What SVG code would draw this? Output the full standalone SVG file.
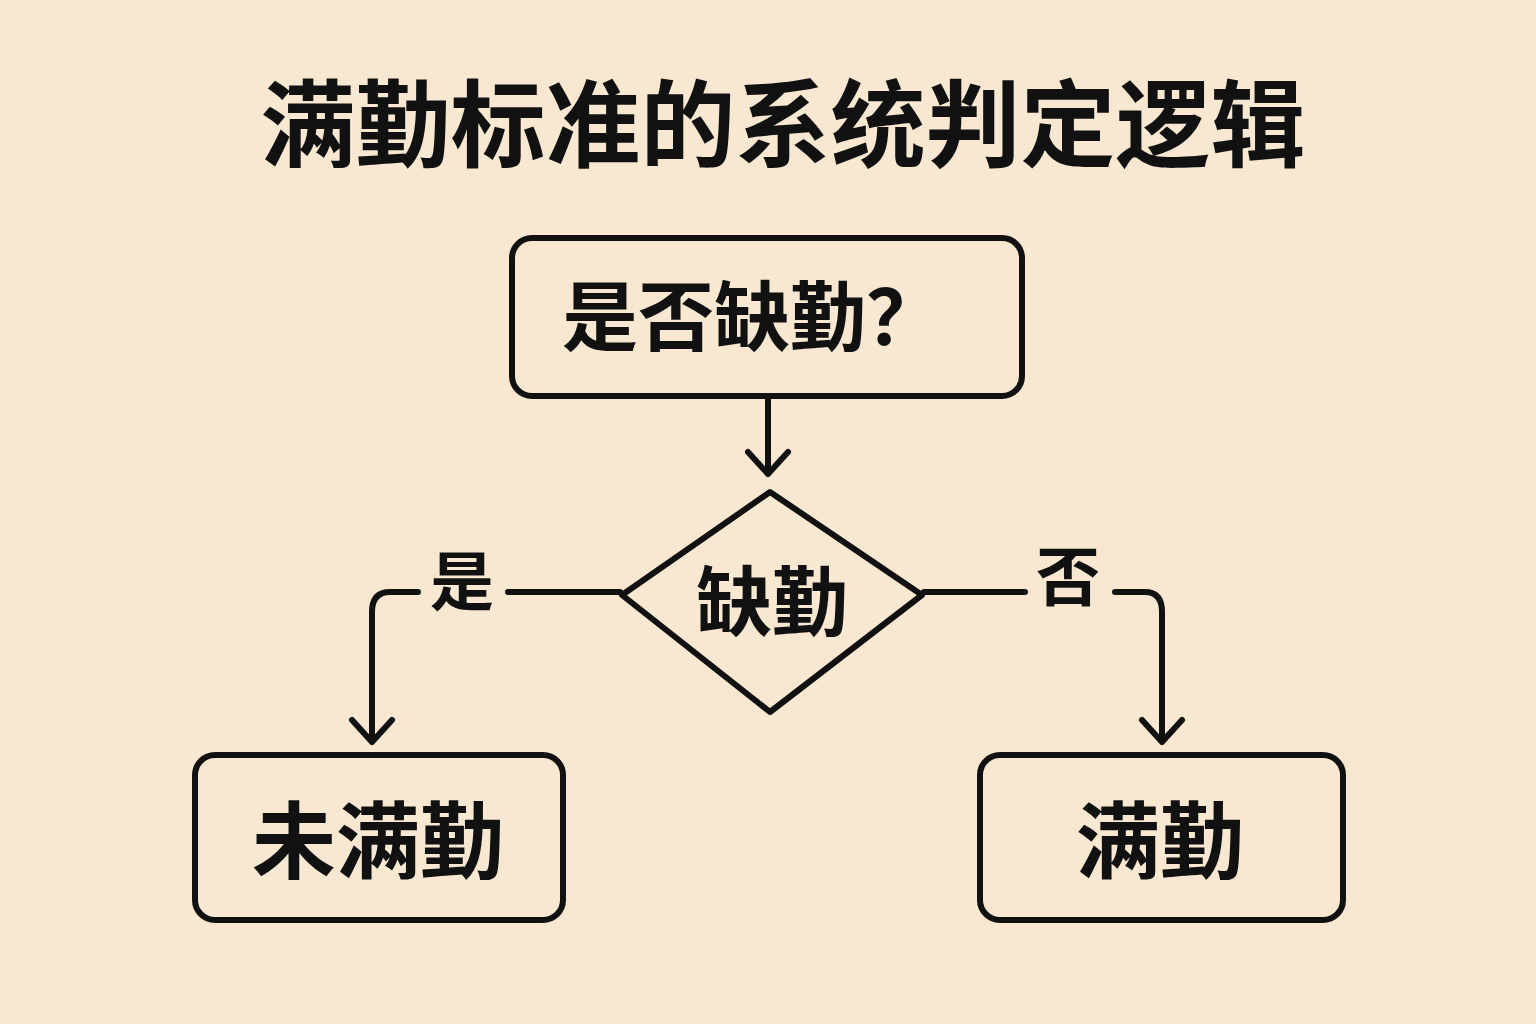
<svg xmlns="http://www.w3.org/2000/svg" width="1536" height="1024" viewBox="0 0 1536 1024">
<style>
.t{font-family:"Noto Sans CJK SC","Noto Sans",sans-serif;font-weight:bold;fill:#111;text-anchor:middle}
.b{fill:none;stroke:#111;stroke-width:6;stroke-linecap:round;stroke-linejoin:round}
</style>
<rect width="1536" height="1024" fill="#F8E8D1"/>
<text class="t" x="783" y="160" font-size="95">满勤标准的系统判定逻辑</text>
<g id="n1"><rect class="b" x="512" y="238" width="510" height="158" rx="20"/><text class="t" x="752" y="345" font-size="76">是否缺勤？</text></g>
<g id="n2"><path class="b" d="M770 492 L922 595 L770 712 L622 595 Z"/><text class="t" x="772" y="630" font-size="76">缺勤</text></g>
<g id="n3"><rect class="b" x="195" y="755" width="368" height="165" rx="20"/><text class="t" x="378" y="872" font-size="84">未满勤</text></g>
<g id="n4"><rect class="b" x="980" y="755" width="363" height="165" rx="20"/><text class="t" x="1160" y="872" font-size="84">满勤</text></g>
<g id="edges">
<path class="b" d="M768 398 V474 M748 452 L768 474 L788 452"/>
<path class="b" d="M620 592 H508 M418 592 H390 Q372 592 372 612 V742 M352 720 L372 742 L392 720"/>
<path class="b" d="M924 592 H1025 M1115 592 H1145 Q1162 592 1162 612 V742 M1142 720 L1162 742 L1182 720"/>
<text class="t" x="462" y="605" font-size="64">是</text>
<text class="t" x="1068" y="600" font-size="64">否</text>
</g>
</svg>
